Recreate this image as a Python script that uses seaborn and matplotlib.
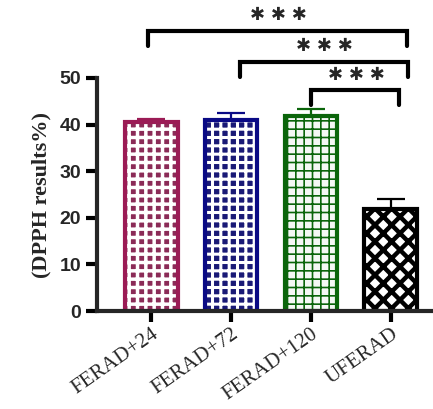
import matplotlib
matplotlib.use("Agg")
import matplotlib.pyplot as plt
import numpy as np
import pandas as pd
import seaborn as sns

groups = ["FERAD+24", "FERAD+72", "FERAD+120", "UFERAD"]
means = [40.6, 41.0, 41.8, 21.9]
errors = [0.6, 1.4, 1.5, 2.1]
bar_colors = ["#9B1B55", "#0A0A85", "#0B650B", "#000000"]
hatch_colors = ["white", "white", "#0B650B", "#000000"]
face_colors = ["#9B1B55", "#0A0A85", "#F4F8F4", "white"]
hatches = ["++", "++", "++", "xx"]
hatch_widths = [2.5, 2.2, 1.2, 3.2]
# significance brackets: (left x, right x, height)
brackets = [(-0.04, 3.21, 60.0), (1.11, 3.22, 53.4), (2.0, 3.1, 47.4)]
star_pos = [(1.59, 63.6), (2.175, 56.8), (2.575, 50.7)]

df = pd.DataFrame({"group": groups, "value": means})

sns.set_style("ticks")
plt.rcParams["hatch.linewidth"] = 2.0

fig = plt.figure(figsize=(4.33, 4.09), dpi=100)
ax = fig.add_axes([97 / 433, 98 / 409, 336 / 433, 233 / 409])

# hatched fill
sns.barplot(data=df, x="group", y="value", hue="group", palette=face_colors,
            width=0.66, legend=False, linewidth=0, ax=ax)
for p, h, hc, hw in zip(ax.patches, hatches, hatch_colors, hatch_widths):
    p.set_hatch(h)
    p.set_edgecolor(hc)
    p.set_linewidth(0)
    if hasattr(p, "set_hatch_linewidth"):
        p.set_hatch_linewidth(hw)
    else:
        p._hatch_linewidth = hw

# outline
sns.barplot(data=df, x="group", y="value", hue="group", palette=bar_colors,
            width=0.66, legend=False, fill=False, linewidth=3, ax=ax)

# upward error bars
for i, (m, e, c) in enumerate(zip(means, errors, bar_colors)):
    ax.errorbar(i, m, yerr=[[0], [e]], color=c, capsize=10, elinewidth=1.6,
                capthick=1.6, zorder=1)

# brackets with stars
for (x0, x1, h), (sx, sy) in zip(brackets, star_pos):
    ax.plot([x0, x0, x1, x1], [h - 3.2, h, h, h - 3.2], color="black", lw=3,
            clip_on=False, solid_joinstyle="miter")
    ax.text(sx, sy, "\u2731 \u2731 \u2731", ha="center", va="center", fontsize=13,
            family="DejaVu Sans")

ax.set_xlim(-0.68, 3.53)
ax.set_ylim(0, 50)
ax.set_yticks([0, 10, 20, 30, 40, 50])
sns.despine(ax=ax)
for s in ["left", "bottom"]:
    ax.spines[s].set_linewidth(3)
ax.tick_params(axis="both", width=3, length=8, color="black")
ax.set_yticklabels([0, 10, 20, 30, 40, 50], fontsize=14, fontweight="bold",
                   family="Liberation Sans")
ax.set_xticks(range(4))
ax.set_xticklabels(groups, rotation=35, ha="right", rotation_mode="anchor",
                   fontsize=15, family="Liberation Serif")
ax.tick_params(axis="x", pad=2)
ax.set_xlabel("")
ax.set_ylabel("(DPPH results%)", fontsize=16, fontweight="bold",
              family="Liberation Serif", labelpad=6)

fig.savefig("out.png", dpi=100)
